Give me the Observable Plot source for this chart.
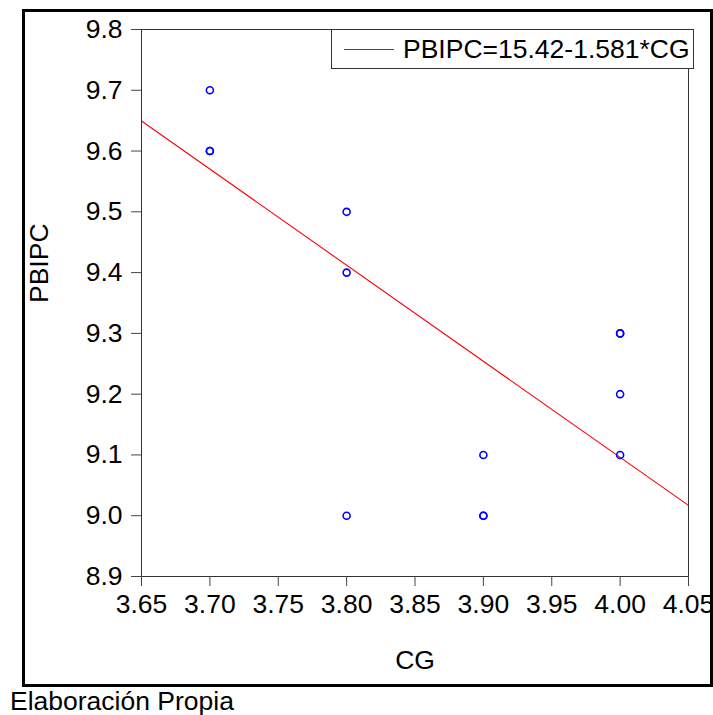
<!DOCTYPE html>
<html>
<head>
<meta charset="utf-8">
<script src="https://cdn.jsdelivr.net/npm/d3@7"></script>
<script src="https://cdn.jsdelivr.net/npm/@observablehq/plot@0.6"></script>
<style>
  html, body { margin: 0; padding: 0; background: #fff; }
  body { width: 713px; height: 715px; position: relative; overflow: hidden; font-family: "Liberation Sans", Arial, sans-serif; }
  #outer { position: absolute; left: 22px; top: 9px; width: 691px; height: 678px; border: 3px solid #000; box-sizing: border-box; pointer-events: none; }
  #legend { position: absolute; left: 331px; top: 29px; width: 363px; height: 40px; border: 1px solid #333; box-sizing: border-box; background: #fff; display: flex; align-items: center; font-size: 26.5px; white-space: nowrap; }
  #legend .sw { width: 50px; height: 0; border-top: 1px solid #ff0000; margin-left: 12px; margin-right: 9px; }
  #caption { position: absolute; left: 10px; top: 686px; font-size: 26.5px; line-height: 30px; color: #000; }
</style>
</head>
<body>
<div id="chart"></div>
<div id="outer"></div>
<div id="legend"><div class="sw"></div><span id="legtext"></span></div>
<div id="caption">Elaboración Propia</div>
<script>
// Observed data (CG, PBIPC); repeated pairs are overlapping observations
const cg    = [3.70, 3.70, 3.70, 3.80, 3.80, 3.80, 3.90, 3.90, 3.90, 4.00, 4.00, 4.00, 4.00];
const pbipc = [9.70, 9.60, 9.60, 9.50, 9.40, 9.00, 9.10, 9.00, 9.00, 9.30, 9.30, 9.20, 9.10];
// Regression line
const intercept = 15.42;
const slope = -1.581;
const xDomain = [3.65, 4.05];
const yDomain = [8.9, 9.8];
const xTicks = [3.65, 3.70, 3.75, 3.80, 3.85, 3.90, 3.95, 4.00, 4.05];
const yTicks = [8.9, 9.0, 9.1, 9.2, 9.3, 9.4, 9.5, 9.6, 9.7, 9.8];
const xLabel = "CG";
const yLabel = "PBIPC";
const legendLabel = "PBIPC=15.42-1.581*CG";
const caption = "Elaboración Propia";

const points = cg.map((x, i) => ({x, y: pbipc[i]}));
const fitLine = xDomain.map(x => ({x, y: intercept + slope * x}));

document.getElementById("legtext").textContent = legendLabel;
document.getElementById("caption").textContent = caption;

const FS = 26.5;
const chart = Plot.plot({
  width: 713,
  height: 686,
  marginLeft: 141,
  marginRight: 25,
  marginTop: 29,
  marginBottom: 110,
  style: { fontFamily: '"Liberation Sans", Arial, sans-serif', fontSize: FS + "px", color: "#000", background: "transparent", overflow: "visible" },
  x: { domain: xDomain },
  y: { domain: yDomain },
  marks: [
    Plot.line(fitLine, { x: "x", y: "y", stroke: "#ff0000", strokeWidth: 1.1 }),
    Plot.dot(points, { x: "x", y: "y", r: 3.5, stroke: "#0000ff", strokeWidth: 1.6, fill: "none" }),
    Plot.frame({ stroke: "#333", strokeWidth: 1 }),
    Plot.axisX({ ticks: xTicks, tickFormat: d => d.toFixed(2), tickSize: 10, tickPadding: 8, stroke: "#444", fill: "#000", fontSize: FS, label: null }),
    Plot.axisY({ ticks: yTicks, tickFormat: d => d.toFixed(1), tickSize: 10, tickPadding: 9, stroke: "#444", fill: "#000", fontSize: FS, label: null }),
    Plot.text([xLabel], { frameAnchor: "bottom", dy: 92, text: d => d, fontSize: FS, fill: "#000" }),
    Plot.text([yLabel], { frameAnchor: "left", dx: -102, rotate: -90, text: d => d, fontSize: FS, fill: "#000" })
  ]
});
document.getElementById("chart").appendChild(chart);
</script>
</body>
</html>
